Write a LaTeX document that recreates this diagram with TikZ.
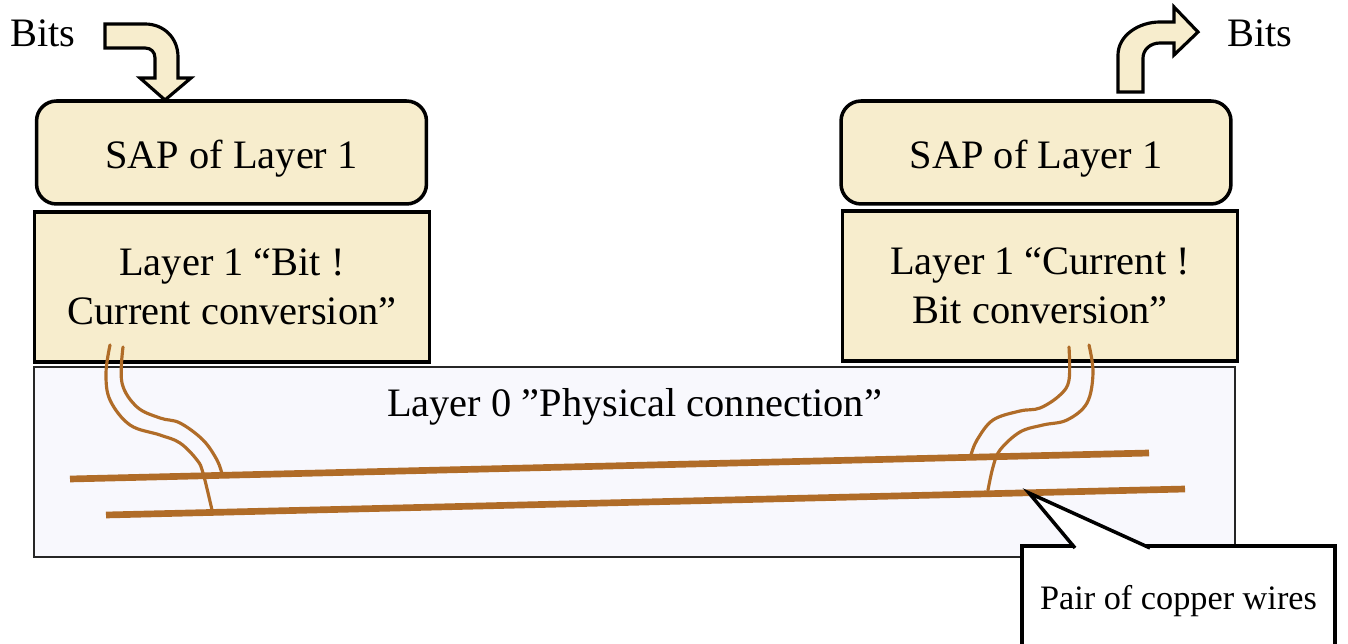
\documentclass[tikz,border=0pt]{standalone}
\usepackage{fontspec}
\setmainfont{Liberation Serif}
\usepackage{tikz}

\definecolor{cream}{HTML}{F7EDCD}
\definecolor{lavender}{HTML}{F8F8FD}
\definecolor{copper}{HTML}{B06C28}

\begin{document}
\begin{tikzpicture}[
  x=0.02cm, y=-0.02cm,
  font=\fontsize{23}{28}\selectfont,
  sapbox/.style={draw, line width=2pt, rounded corners=0.4cm, fill=cream, align=center, minimum width=7.8cm, minimum height=2.06cm, text height=0.8cm, text depth=0.14cm},
  convbox/.style={draw, line width=2pt, fill=cream, align=center, minimum width=7.9cm, minimum height=3cm},
  physbox/.style={draw=black!85, line width=1.3pt, fill=lavender, minimum width=24.02cm, minimum height=3.8cm},
  callout/.style={draw, line width=2pt, fill=white, minimum width=6.26cm, minimum height=2.2cm, font=\fontsize{19.5}{23}\selectfont},
  bitarrow/.style={draw, line width=1.8pt, fill=cream, line join=miter},
  wire/.style={copper, line width=3.8pt},
  cable/.style={copper, line width=1.8pt, line cap=round}
]
\useasboundingbox (0,0) rectangle (1348,644);

% boxes
\node[physbox] (phys) at (634.5,462) {};
\node (physlabel) at (634.5,407) {Layer 0 ”Physical connection”};
\node[sapbox] (sapL) at (231.5,152.5) {SAP of Layer 1};
\node[convbox] (convL) at (232,287) {Layer 1 “Bit !\\Current conversion”};
\node[sapbox] (sapR) at (1036,152.5) {SAP of Layer 1};
\node[convbox] (convR) at (1040,286) {Layer 1 “Current !\\Bit conversion”};

% bits in / out
\node (bitsL) at (43,33) {Bits};
\node (bitsR) at (1260,33) {Bits};
\path[bitarrow] (105,24) -- (145,24) .. controls (164,24) and (178,38) .. (178,57)
  -- (178,78) -- (191,78) -- (165,100) -- (140,78) -- (155,78) -- (155,58)
  .. controls (155,52) and (151,48) .. (145,48) -- (105,48) -- cycle;
\path[bitarrow] (1118,92) -- (1118,55) .. controls (1118,36) and (1138,22) .. (1160,22)
  -- (1174,22) -- (1174,7) -- (1198,32) -- (1174,55) -- (1174,43) -- (1160,43)
  .. controls (1150,43) and (1143,50) .. (1143,58) -- (1143,92) -- cycle;

% copper pair
\draw[wire] (70,479) -- (1149,453);
\draw[wire] (106,515) -- (1185,489);
\draw[cable] plot[smooth, tension=0.6] coordinates {(110,345) (106,373) (110,400) (130,425) (160,435) (180,443) (197,460) (203,473) (212,510)};
\draw[cable] plot[smooth, tension=0.6] coordinates {(123,347) (122,383) (137,407) (160,418) (180,423) (203,440) (217,460) (222,474)};
\draw[cable] plot[smooth, tension=0.6] coordinates {(1069,347) (1069,380) (1060,395) (1040,408) (1020,411) (993,420) (977,440) (971,455)};
\draw[cable] plot[smooth, tension=0.6] coordinates {(1089,345) (1093,373) (1087,403) (1067,420) (1043,425) (1020,432) (1000,450) (993,467) (988,490)};

% callout
\node[callout] (wires) at (1178.5,601) {Pair of copper wires};
\coordinate (tip) at (1029,493);
\coordinate (baseA) at (1075,548);
\coordinate (baseB) at (1150,548);
\draw[line width=2pt, fill=white, line join=miter] (baseA) -- (tip) -- (baseB);
\end{tikzpicture}
\end{document}
